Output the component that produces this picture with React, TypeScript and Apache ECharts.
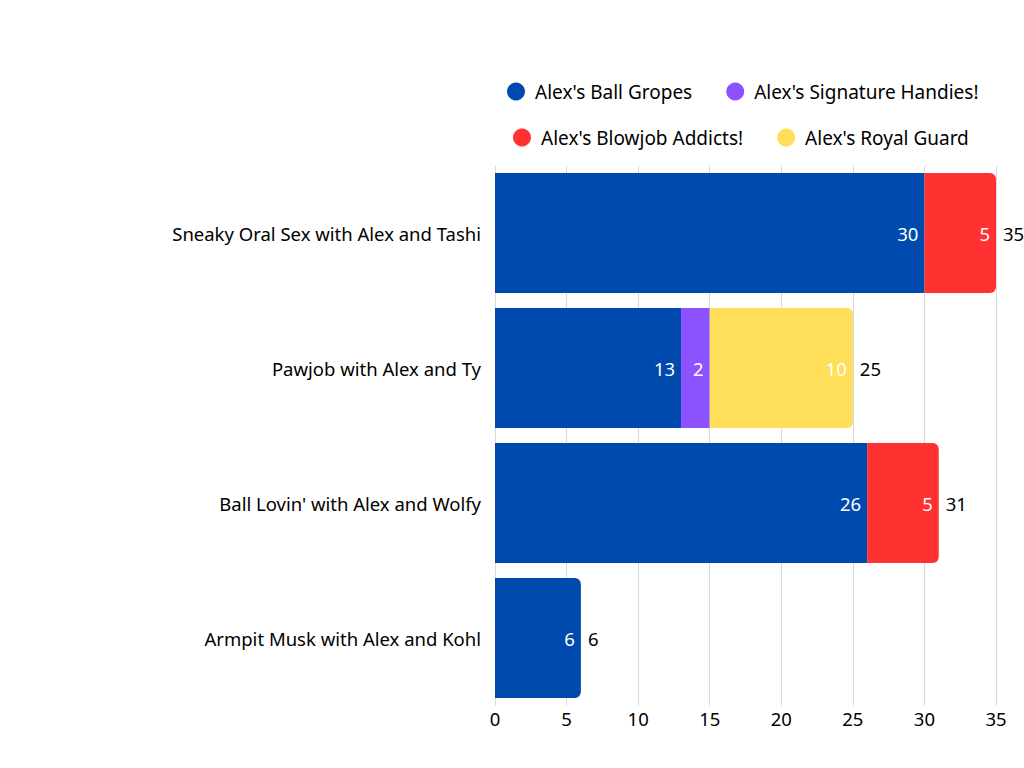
import React, { useEffect, useRef } from "react";
import * as echarts from "echarts";

const categories = [
  "Sneaky Oral Sex with Alex and Tashi",
  "Pawjob with Alex and Ty",
  "Ball Lovin' with Alex and Wolfy",
  "Armpit Musk with Alex and Kohl",
];
const seriesNames = [
  "Alex's Ball Gropes",
  "Alex's Signature Handies!",
  "Alex's Blowjob Addicts!",
  "Alex's Royal Guard",
];
const ballGropes = [30, 13, 26, 6];
const signatureHandies = [0, 2, 0, 0];
const blowjobAddicts = [5, 0, 5, 0];
const royalGuard = [0, 10, 0, 0];
const colors = ["#004AAD", "#8C52FF", "#FF3131", "#FFDE59"];
const xTicks = [0, 5, 10, 15, 20, 25, 30, 35];

const FONT = "Noto Sans";
const FS = 18.5;

export default function App() {
  const ref = useRef<HTMLDivElement>(null);
  useEffect(() => {
    if (!ref.current) return;
    const chart = echarts.init(ref.current, undefined, { renderer: "svg" });
    const all = [ballGropes, signatureHandies, blowjobAddicts, royalGuard];
    const totals = categories.map((_, i) => all.reduce((s, a) => s + a[i], 0));
    const lastIdx = categories.map((_, i) => {
      let li = 0;
      all.forEach((a, si) => {
        if (a[i] > 0) li = si;
      });
      return li;
    });
    const series: any[] = all.map((arr, si) => ({
      name: seriesNames[si],
      type: "bar",
      stack: "total",
      barCategoryGap: "11.1%",
      itemStyle: { color: colors[si] },
      label: {
        show: true,
        position: "insideRight",
        distance: 6,
        color: "#ffffff",
        fontFamily: FONT,
        fontSize: FS,
      },
      data: arr.map((v, i) =>
        v > 0
          ? {
              value: v,
              itemStyle: {
                color: colors[si],
                borderRadius: lastIdx[i] === si ? [0, 6, 6, 0] : 0,
              },
            }
          : null
      ),
    }));
    series.push({
      name: "Total",
      type: "bar",
      stack: "total",
      itemStyle: { color: "transparent" },
      label: {
        show: true,
        position: "right",
        distance: 7,
        color: "#000000",
        fontFamily: FONT,
        fontSize: FS,
        formatter: (p: any) => String(totals[p.dataIndex]),
      },
      data: categories.map(() => 0),
    });
    const legendCommon = {
      icon: "circle",
      itemWidth: 18,
      itemHeight: 18,
      itemGap: 34,
      padding: 0,
      textStyle: {
        fontFamily: FONT,
        fontSize: 19,
        color: "#000000",
        padding: [0, 0, 0, 5],
      },
    };
    chart.setOption({
      animation: false,
      color: colors,
      textStyle: { fontFamily: FONT },
      legend: [
        { ...legendCommon, data: [seriesNames[0], seriesNames[1]], left: 507, top: 82 },
        { ...legendCommon, data: [seriesNames[2], seriesNames[3]], left: 513, top: 128 },
      ],
      grid: { left: 495, right: 28, top: 165.5, bottom: 62.5, containLabel: false },
      xAxis: {
        type: "value",
        min: 0,
        max: 35,
        interval: 5,
        axisLine: { show: false },
        axisTick: { show: false },
        splitLine: { show: true, lineStyle: { color: "#D9D9D9", width: 1 } },
        axisLabel: {
          color: "#000000",
          fontFamily: FONT,
          fontSize: FS,
          margin: 3,
          formatter: (v: number) => (xTicks.includes(v) ? String(v) : ""),
        },
      },
      yAxis: {
        type: "category",
        data: categories,
        inverse: true,
        axisLine: { show: false },
        axisTick: { show: false },
        axisLabel: { color: "#000000", fontFamily: FONT, fontSize: FS, margin: 14 },
      },
      series,
    });
    return () => chart.dispose();
  }, []);
  return <div ref={ref} style={{ width: 1024, height: 768, position: "absolute", left: 0, top: 0 }} />;
}
